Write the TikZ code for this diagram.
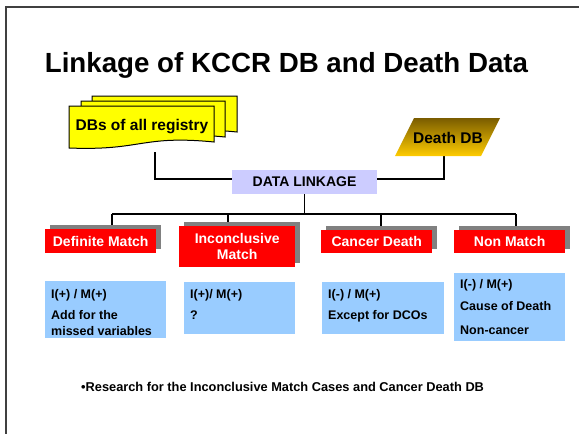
\documentclass[tikz,border=0pt]{standalone}
\usepackage{fontspec}
\setmainfont{Liberation Sans}
\usetikzlibrary{shadows,backgrounds,calc}
\definecolor{skyb}{HTML}{99CCFF}
\definecolor{lav}{HTML}{CCCCFF}
\definecolor{gold}{HTML}{FFCC00}
\definecolor{darkgold}{HTML}{7A5C00}
\definecolor{docyellow}{HTML}{FFFF00}
\begin{document}
\begin{tikzpicture}[x=1pt,y=-1pt,
  conn/.style={line width=1.3pt,black},
  frameline/.style={line width=1.6pt,black!75},
  docshape/.style={fill=docyellow,draw=black,line width=1pt},
  redbox/.style={fill=red,text=white,font=\fontsize{14}{16}\selectfont\bfseries,align=center,inner sep=0pt,anchor=north west,
    drop shadow={shadow xshift=5pt,shadow yshift=4pt,fill=gray,opacity=1}},
  bluebox/.style={fill=skyb,inner sep=0pt,anchor=north west},
  bluetext/.style={font=\fontsize{12.5}{16}\selectfont\bfseries,align=left,anchor=base west,inner sep=0pt},
  lbl/.style={inner sep=0pt,anchor=base,font=\fontsize{15.5}{17}\selectfont\bfseries}]
\useasboundingbox (0,0) rectangle (579,434);
% frame
\draw[frameline] (6,434) -- (6,7) -- (579,7);
% title
\node[inner sep=0pt,anchor=base,font=\fontsize{27.7}{30}\selectfont\bfseries] (title) at (286.5,72) {Linkage of KCCR DB and Death Data};
% stacked documents
\draw[docshape] (92,96) -- (237,96) -- (237,96+36) .. controls (164.5,96+28.8) and (164.5,96+45) .. (92,96+42) -- cycle;
\draw[docshape] (81,101) -- (225,101) -- (225,101+36) .. controls (153,101+28.8) and (153,101+45) .. (81,101+42) -- cycle;
\draw[docshape] (69,106) -- (214,106) -- (214,106+36) .. controls (141.5,106+28.8) and (141.5,106+45) .. (69,106+42) -- cycle;
\node[lbl] (dbs) at (142,130) {DBs of all registry};
\coordinate (dbsout) at (155,152);
% death DB
\shade[top color=darkgold,bottom color=gold] (414,118) -- (500,118) -- (481,156) -- (395,156) -- cycle;
\node[lbl] (death) at (448,143) {Death DB};
\coordinate (deathout) at (444,156);
% data linkage
\node[fill=lav,minimum width=145pt,minimum height=24pt,inner sep=0pt,font=\fontsize{14}{16}\selectfont\bfseries] (dl) at (304.5,182) {DATA LINKAGE};
\coordinate (j1) at (155,179);
\coordinate (j2) at (444,179);
% red boxes
\node[redbox,minimum width=111pt,minimum height=24pt] (def) at (45,229) {Definite Match};
\node[redbox,minimum width=116pt,minimum height=41pt] (inc) at (179,226) {Inconclusive\\Match};
\node[redbox,minimum width=111pt,minimum height=23pt] (can) at (321,230) {Cancer Death};
\node[redbox,minimum width=111pt,minimum height=23pt] (non) at (454,230) {Non Match};
% bus coordinates
\coordinate (busL) at (112,214);
\coordinate (busI) at (228,214);
\coordinate (busC) at (381,214);
\coordinate (busR) at (516,214);
% blue boxes
\node[bluebox,minimum width=121pt,minimum height=57pt] (b1) at (45,281) {};
\node[bluebox,minimum width=111pt,minimum height=52pt] (b2) at (184,282) {};
\node[bluebox,minimum width=122pt,minimum height=52pt] (b3) at (322,282) {};
\node[bluebox,minimum width=111pt,minimum height=68pt] (b4) at (454,273) {};
\node[bluetext] (t1) at (51,335) {I(+) / M(+)\\[5pt]Add for the\\missed variables};
\node[bluetext] (t2) at (190,319) {I(+)/ M(+)\\[5pt]?};
\node[bluetext] (t3) at (328,319) {I(-) / M(+)\\[5pt]Except for DCOs};
\node[bluetext] (t4) at (460,334) {I(-) / M(+)\\[6pt]Cause of Death\\[8pt]Non-cancer};
% bottom note
\node[inner sep=0pt,anchor=base west,font=\fontsize{12.8}{15}\selectfont\bfseries] (note) at (81,391) {•Research for the Inconclusive Match Cases and Cancer Death DB};
% connectors
\begin{scope}[on background layer]
\draw[conn] (dbsout) -- (j1) -- (j1 -| dl.west);
\draw[conn] (deathout) -- (j2) -- (j2 -| dl.east);
\draw[conn] (dl.south) -- (dl.south |- busL);
\draw[conn] (busL) -- (busR);
\draw[conn] (busL) -- (busL |- def.north);
\draw[conn] (busI) -- (busI |- inc.north);
\draw[conn] (busC) -- (busC |- can.north);
\draw[conn] (busR) -- (busR |- non.north);
\end{scope}
\end{tikzpicture}
\end{document}
